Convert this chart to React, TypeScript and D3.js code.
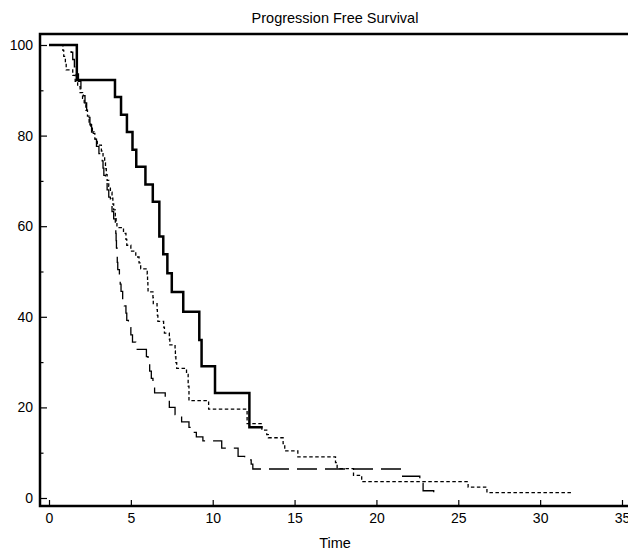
import { useRef, useEffect } from 'react';
import * as d3 from 'd3';

// Kaplan-Meier steps: time of each drop and survival (%) after it
const groupATimes = [1.7, 4.03, 4.4, 4.76, 5.1, 5.33, 5.89, 6.34, 6.74, 6.98, 7.23, 7.5, 8.2, 9.18, 9.32, 10.14, 12.24];
const groupASurv = [92.3, 88.5, 84.6, 80.8, 76.9, 73.1, 69.2, 65.4, 57.7, 53.8, 49.6, 45.5, 41.1, 34.9, 29.1, 23.2, 15.6];
const groupAEnd = 13.05;

const groupBTimes = [
  0.85, 0.9, 1.0, 1.05, 1.45, 1.6, 1.75, 1.9, 2.05, 2.15, 2.25, 2.35, 2.45, 2.55, 2.65, 2.8, 2.95,
  3.2, 3.3, 3.4, 3.45, 3.5, 3.55, 3.65, 3.75, 3.85, 3.9, 3.95, 4.05, 4.1, 4.15, 4.55, 4.7, 4.75,
  5.0, 5.3, 5.5, 5.6, 6.0, 6.02, 6.04, 6.05, 6.35, 6.37, 6.6, 6.62, 6.65, 7.0, 7.05, 7.35, 7.38,
  7.7, 7.72, 7.75, 7.8, 8.4, 8.5, 8.55, 9.75, 12.1, 13.0, 13.3, 13.4, 14.3, 14.4, 15.2, 17.5,
  17.6, 18.6, 19.1, 25.6, 26.75,
];
const groupBSurv = [
  98.8, 97.5, 96, 94.5, 93.3, 92, 90.8, 89.5, 88.2, 86.9, 85.6, 84.3, 83, 81.8, 80.5, 79.2, 77.9,
  76.6, 75.3, 74, 72.7, 71.4, 70.1, 68.8, 67.5, 66.2, 64.9, 63.6, 62.3, 61, 59.7, 58.4, 57.1, 55.8,
  54.5, 53.2, 51.9, 50.6, 49.4, 48.1, 46.8, 45.5, 44.2, 42.9, 41.6, 40.3, 39, 37.7, 36.4, 35.1, 33.8,
  32.5, 31.2, 29.9, 28.6, 27.3, 24.7, 21.5, 19.6, 16.4, 15, 14, 13.3, 12, 10.4, 9.1, 7.8,
  6.5, 5, 3.6, 2.4, 1.2,
];
const groupBEnd = 32.0;

const groupCTimes = [
  1.35, 1.45, 1.55, 1.65, 1.8, 1.95, 2.1, 2.2, 2.3, 2.4, 2.5, 2.6, 2.75, 2.9, 3.05, 3.25, 3.3,
  3.35, 3.45, 3.55, 3.65, 3.75, 3.85, 3.95, 4.05, 4.08, 4.1, 4.12, 4.15, 4.17, 4.2, 4.3, 4.35,
  4.4, 4.5, 4.6, 4.7, 4.75, 4.85, 5.0, 5.1, 5.3, 5.95, 6.05, 6.15, 6.25, 6.35, 6.45, 7.1, 7.35,
  7.7, 8.1, 8.55, 8.75, 9.0, 9.4, 10.55, 11.55, 11.95, 12.35, 12.45, 21.6, 22.65, 22.85, 23.5,
];
const groupCSurv = [
  98.4, 96.8, 95.2, 93.6, 92, 90.4, 88.8, 87.2, 85.6, 84, 82.4, 80.8, 79.2, 77.6, 76, 74.4, 72.8,
  71.2, 69.6, 68, 66.4, 64.8, 63.2, 61.6, 60, 58.4, 56.8, 55.2, 53.6, 52, 50.4, 48.8, 47.2,
  45.6, 44, 42.4, 40.8, 39.2, 37.6, 36, 34.4, 32.8, 31.2, 29.6, 28, 26.4, 24.8, 23.2, 21.6, 20,
  18.4, 16.8, 15.6, 14.5, 13.5, 12.6, 11, 9.2, 8.4, 7.5, 6.4, 4.8, 3.2, 1.6, 0,
];
const groupCEnd = 23.5;

const xTicks = [0, 5, 10, 15, 20, 25, 30, 35];
const yTicks = [0, 20, 40, 60, 80, 100];
const yMinorTicks = [10, 30, 50, 70, 90];

const W = 628;
const H = 550;
const FONT = 'Liberation Sans, Arial, sans-serif';

function steps(times: number[], surv: number[], end: number): [number, number][] {
  const pts: [number, number][] = [[0, 100]];
  times.forEach((t, i) => pts.push([t, surv[i]]));
  pts.push([end, surv[surv.length - 1]]);
  return pts;
}

export default function App() {
  const svgRef = useRef<SVGSVGElement>(null);

  useEffect(() => {
    const svg = d3.select(svgRef.current);
    svg.selectAll('*').remove();

    const x = d3.scaleLinear().domain([0, 35]).range([49, 622]);
    const y = d3.scaleLinear().domain([0, 100]).range([498, 45]);

    const left = 40;
    const top = 34;
    const bottom = 506;

    // title
    svg.append('text')
      .attr('x', 335).attr('y', 23)
      .attr('text-anchor', 'middle')
      .attr('font-family', FONT).attr('font-size', 14.5)
      .text('Progression Free Survival');

    // y axis
    svg.append('g')
      .attr('transform', `translate(${left},0)`)
      .call(d3.axisLeft(y).tickValues(yTicks).tickSizeInner(-7).tickSizeOuter(0).tickPadding(7))
      .call((a) => a.select('.domain').remove())
      .call((a) => a.selectAll('line').attr('stroke', '#000').attr('stroke-width', 1.2))
      .call((a) => a.selectAll('text').attr('font-family', FONT).attr('font-size', 14).attr('fill', '#000'));

    svg.append('g')
      .attr('transform', `translate(${left},0)`)
      .call(d3.axisLeft(y).tickValues(yMinorTicks).tickSizeInner(-3.5).tickSizeOuter(0).tickFormat(() => ''))
      .call((a) => a.select('.domain').remove())
      .call((a) => a.selectAll('line').attr('stroke', '#000').attr('stroke-width', 1.2));

    // x axis
    svg.append('g')
      .attr('transform', `translate(0,${bottom})`)
      .call(d3.axisBottom(x).tickValues(xTicks).tickSizeInner(-6).tickSizeOuter(0).tickPadding(7))
      .call((a) => a.select('.domain').remove())
      .call((a) => a.selectAll('line').attr('stroke', '#000').attr('stroke-width', 1.2))
      .call((a) => a.selectAll('text').attr('font-family', FONT).attr('font-size', 14).attr('fill', '#000'));

    svg.append('text')
      .attr('x', 335).attr('y', 548)
      .attr('text-anchor', 'middle')
      .attr('font-family', FONT).attr('font-size', 14.5)
      .text('Time');

    // frame
    svg.append('path')
      .attr('d', `M${W + 2},${top}H${left}V${bottom}H${W + 2}`)
      .attr('fill', 'none')
      .attr('stroke', '#000')
      .attr('stroke-width', 2.5);

    const line = d3.line<[number, number]>()
      .x((d) => x(d[0]))
      .y((d) => y(d[1]))
      .curve(d3.curveStepAfter);

    svg.append('path')
      .datum(steps(groupCTimes, groupCSurv, groupCEnd))
      .attr('fill', 'none').attr('stroke', '#000')
      .attr('stroke-width', 1.3).attr('stroke-dasharray', '20,8')
      .attr('d', line);

    svg.append('path')
      .datum(steps(groupBTimes, groupBSurv, groupBEnd))
      .attr('fill', 'none').attr('stroke', '#000')
      .attr('stroke-width', 1.3).attr('stroke-dasharray', '3.5,2.5')
      .attr('d', line);

    svg.append('path')
      .datum(steps(groupATimes, groupASurv, groupAEnd))
      .attr('fill', 'none').attr('stroke', '#000')
      .attr('stroke-width', 2.5)
      .attr('d', line);
  }, []);

  return (
    <svg
      ref={svgRef}
      width={W}
      height={H}
      style={{ position: 'absolute', left: 0, top: 0, background: '#fff' }}
    />
  );
}
